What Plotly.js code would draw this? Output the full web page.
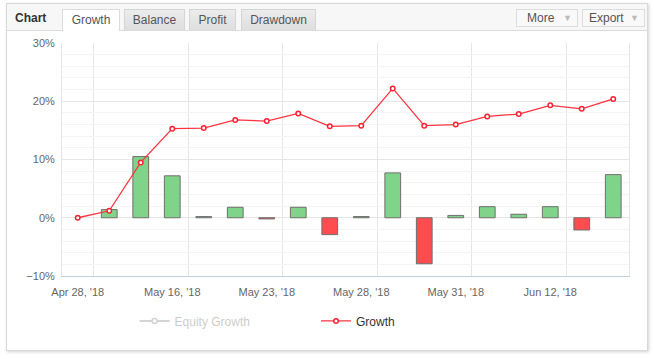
<!DOCTYPE html>
<html>
<head>
<meta charset="utf-8">
<script src="https://cdn.plot.ly/plotly-3.0.1.min.js"></script>
<style>
  html, body { margin:0; padding:0; width:654px; height:359px; background:#fff; overflow:hidden; font-family:"Liberation Sans", Arial, sans-serif; }
  #box { position:absolute; left:6px; top:3px; width:640px; height:346px; border:1px solid #d9d9d9; box-shadow:1px 1px 3px rgba(0,0,0,0.18); background:#fff; }
  #head { position:absolute; left:0; top:0; width:640px; height:26px; background:#f7f7f7; border-bottom:1px solid #dcdcdc; }
  .lbl { position:absolute; left:8px; top:7px; font-size:12px; font-weight:bold; color:#333; }
  .tab { position:absolute; top:5px; height:20px; line-height:20px; font-size:12px; color:#555; text-align:center; border:1px solid #d4d4d4; border-bottom:none; background:linear-gradient(#ececec,#dedede); }
  .tab.active { background:#fff; height:21px; border-color:#dcdcdc; }
  .btn { position:absolute; top:5px; height:16px; line-height:16px; font-size:12px; color:#555; border:1px solid #dcdcdc; background:#f9f9f9; }
  .btn span { color:#bbb; font-size:9px; position:absolute; right:5px; top:0; }
  #chart { position:absolute; left:0; top:0; width:654px; height:359px; }
</style>
</head>
<body>
<div id="box">
  <div id="head">
    <div class="lbl">Chart</div>
    <div class="tab active" style="left:55px;width:56px;">Growth</div>
    <div class="tab" style="left:117px;width:59px;">Balance</div>
    <div class="tab" style="left:182px;width:45px;">Profit</div>
    <div class="tab" style="left:234px;width:73px;">Drawdown</div>
    <div class="btn" style="left:509px;width:60px;"><span style="position:static;color:#555;font-size:12px;margin-left:10px;">More</span><span>&#9660;</span></div>
    <div class="btn" style="left:575px;width:61px;"><span style="position:static;color:#555;font-size:12px;margin-left:6px;">Export</span><span>&#9660;</span></div>
  </div>
</div>
<div id="chart"></div>
<script>
// ---- data ----
const categories = [0,1,2,3,4,5,6,7,8,9,10,11,12,13,14,15,16,17];
const labelPositions = [0, 3, 6, 9, 12, 15];
const tickLabels = ["Apr 28, '18", "May 16, '18", "May 23, '18", "May 28, '18", "May 31, '18", "Jun 12, '18"];
const gridPositions = [0.5, 3.5, 6.5, 9.5, 12.5, 15.5];
const periodGrowth = [null, 1.4, 10.5, 7.2, 0.2, 1.8, -0.2, 1.8, -2.9, 0.2, 7.7, -7.9, 0.4, 1.9, 0.6, 1.9, -2.1, 7.4];
const growth = [0, 1.2, 9.5, 15.3, 15.4, 16.8, 16.6, 17.9, 15.7, 15.8, 22.2, 15.8, 16.0, 17.4, 17.8, 19.3, 18.7, 20.4];
const equityGrowth = [0, 1.2, 9.5, 15.3, 15.4, 16.8, 16.6, 17.9, 15.7, 15.8, 22.2, 15.8, 16.0, 17.4, 17.8, 19.3, 18.7, 20.4];

const barColors = periodGrowth.map(v => (v !== null && v < 0) ? '#ff4d4f' : '#80d48a');

const traces = [
  {
    type: 'bar', x: categories, y: periodGrowth, width: 0.5,
    marker: { color: barColors, line: { color: '#6e6e6e', width: 1 } },
    showlegend: false, hoverinfo: 'skip'
  },
  {
    type: 'scatter', mode: 'lines+markers', name: 'Equity Growth',
    x: categories, y: equityGrowth, visible: 'legendonly', legend: 'legend2',
    line: { color: '#aaaaaa', width: 2 },
    marker: { symbol: 'circle', size: 5, color: '#ffffff', line: { color: '#aaaaaa', width: 1.5 } }
  },
  {
    type: 'scatter', mode: 'lines+markers', name: 'Growth',
    x: categories, y: growth,
    line: { color: '#ff3340', width: 1.3 },
    marker: { symbol: 'circle', size: 4.5, color: '#ffffff', line: { color: '#ff2233', width: 1.5 } }
  }
];

const layout = {
  width: 654, height: 359,
  margin: { l: 62, r: 25, t: 43, b: 83 },
  paper_bgcolor: 'rgba(0,0,0,0)',
  plot_bgcolor: 'rgba(0,0,0,0)',
  font: { family: '"Liberation Sans", Arial, sans-serif', size: 11, color: '#666' },
  bargap: 0,
  xaxis: {
    range: [-0.5, 17.5], tickmode: 'array', tickvals: labelPositions, ticktext: tickLabels,
    showgrid: false, zeroline: false, ticks: '', ticklabelstandoff: 6,
    showline: true, linecolor: '#c0d0e0', linewidth: 1,
    tickfont: { size: 11, color: '#666' },
    minor: { tickmode: 'array', tickvals: gridPositions, showgrid: true, gridcolor: '#e6e6e6', gridwidth: 1, ticks: '' },
    fixedrange: true
  },
  yaxis: {
    range: [-10, 30], tickmode: 'linear', tick0: -10, dtick: 10, ticksuffix: '%',
    showgrid: true, gridcolor: '#e6e6e6', gridwidth: 1, zeroline: false, ticks: '',
    ticklabelstandoff: 4,
    showline: true, linecolor: '#e6e6e6', linewidth: 1, mirror: true,
    minor: { dtick: 2, showgrid: true, gridcolor: '#f4f4f4', gridwidth: 1, ticks: '' },
    tickfont: { size: 11, color: '#666' },
    fixedrange: true
  },
  legend: {
    orientation: 'h', x: 0.448, xanchor: 'left', y: -0.193, yanchor: 'middle',
    font: { size: 12, color: '#333' }, bgcolor: 'rgba(0,0,0,0)', itemwidth: 30
  },
  legend2: {
    orientation: 'h', x: 0.128, xanchor: 'left', y: -0.193, yanchor: 'middle',
    font: { size: 12, color: '#999' }, bgcolor: 'rgba(0,0,0,0)', itemwidth: 30
  },
  showlegend: true
};

Plotly.newPlot('chart', traces, layout, { displayModeBar: false, staticPlot: true });
</script>
</body>
</html>
